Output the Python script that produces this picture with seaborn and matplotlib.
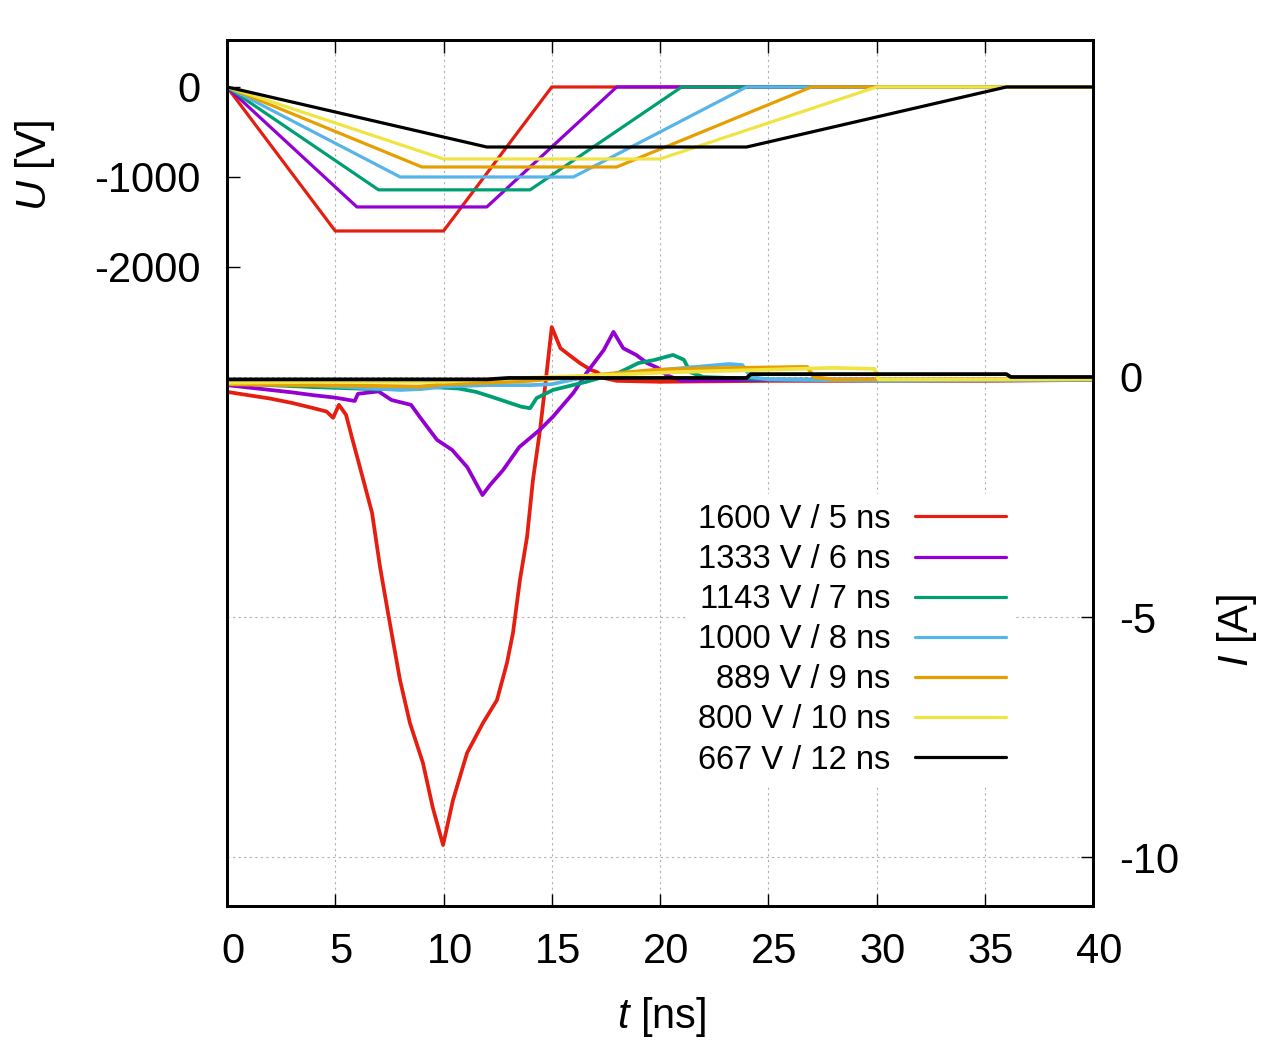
import matplotlib
matplotlib.use('Agg')
import matplotlib.pyplot as plt
import matplotlib.transforms as mtransforms
import seaborn as sns

# legend labels and gnuplot default line colours
labels = ['1600 V / 5 ns', '1333 V / 6 ns', '1143 V / 7 ns', '1000 V / 8 ns',
          '889 V / 9 ns', '800 V / 10 ns', '667 V / 12 ns']
colors = ['#e51e10', '#9400d3', '#009e73', '#56b4e9', '#e69f00', '#f0e442', '#000000']

# applied voltage pulses (corner points), t in ns, U in V
u_t = [
    [0, 5, 10, 15, 40],
    [0, 6, 12, 18, 40],
    [0, 7, 14, 21, 40],
    [0, 8, 16, 24, 40],
    [0, 9, 18, 27, 40],
    [0, 10, 20, 30, 40],
    [0, 12, 24, 36, 40],
]
u_v = [
    [0, -1600, -1600, 0, 0],
    [0, -1333, -1333, 0, 0],
    [0, -1143, -1143, 0, 0],
    [0, -1000, -1000, 0, 0],
    [0, -889, -889, 0, 0],
    [0, -800, -800, 0, 0],
    [0, -667, -667, 0, 0],
]

i_red_t = [0, 1, 2, 3, 4, 4.6, 4.9, 5.17, 5.5, 5.8, 6.14, 6.7, 7.07, 7.44, 7.99, 8.45,
           9.05, 9.5, 9.98, 10.44, 11.09, 11.82, 12.47, 12.93, 13.21, 13.53, 13.86,
           14.13, 14.46, 14.69, 15.0, 15.4, 15.8, 16.3, 16.8, 17.1, 17.4, 18, 20, 25,
           30, 35, 40]
i_red = [-0.31, -0.38, -0.45, -0.54, -0.65, -0.72, -0.85, -0.58, -0.79, -1.31, -1.88,
         -2.83, -3.96, -4.92, -6.31, -7.21, -8.04, -8.96, -9.75, -8.81, -7.83, -7.21,
         -6.73, -5.96, -5.33, -4.23, -3.33, -2.15, -1.1, -0.21, 1.04, 0.6, 0.46, 0.29,
         0.15, 0.1, -0.02, -0.08, -0.1, -0.08, -0.08, -0.08, -0.06]

i_pur_t = [0, 1, 2, 3, 4, 5, 5.9, 6.05, 7.0, 7.6, 8.5, 8.9, 9.7, 10.4, 11.1, 11.8,
           12.15, 12.75, 13.5, 14.45, 15.05, 16.0, 16.6, 17.4, 17.85, 18.3, 18.9,
           19.4, 19.9, 20.3, 21, 25, 30, 35, 40]
i_pur = [-0.17, -0.22, -0.27, -0.32, -0.38, -0.43, -0.5, -0.35, -0.3, -0.48, -0.58,
         -0.83, -1.31, -1.52, -1.88, -2.46, -2.25, -1.94, -1.46, -1.1, -0.83, -0.33,
         0.08, 0.56, 0.94, 0.6, 0.46, 0.29, 0.19, 0.04, -0.08, -0.06, -0.05, -0.05,
         -0.05]

i_grn_t = [0, 2, 4, 6, 7, 8, 9.1, 10.7, 11.5, 12.2, 13, 13.6, 14, 14.3, 15.06, 16.6,
           18.15, 19.0, 19.7, 20.6, 21.1, 21.4, 22, 25, 30, 35, 40]
i_grn = [-0.12, -0.17, -0.21, -0.24, -0.26, -0.22, -0.2, -0.24, -0.31, -0.41, -0.53,
         -0.62, -0.65, -0.44, -0.27, -0.1, 0.1, 0.29, 0.35, 0.46, 0.36, 0.1, 0.0,
         -0.05, -0.06, -0.06, -0.05]

i_blu_t = [0, 3, 6, 8, 9, 10, 12, 14, 15, 16, 17.5, 19, 21.4, 23.2, 23.8, 24.2, 25,
           30, 40]
i_blu = [-0.08, -0.15, -0.22, -0.27, -0.25, -0.2, -0.17, -0.17, -0.15, -0.05, 0.04,
         0.1, 0.2, 0.27, 0.25, 0.0, -0.05, -0.08, -0.06]

i_org_t = [0, 3, 6, 9, 10, 12, 14, 16, 18, 19.8, 22, 26.8, 27.1, 28, 35, 40]
i_org = [-0.15, -0.17, -0.18, -0.2, -0.15, -0.12, -0.08, 0.0, 0.08, 0.15, 0.18, 0.21,
         0.0, -0.05, -0.05, -0.05]

i_yel_t = [0, 5, 10, 12, 15, 18, 20.6, 24, 28, 29.9, 30.1, 35, 40]
i_yel = [-0.12, -0.1, -0.1, -0.05, 0.0, 0.05, 0.1, 0.14, 0.19, 0.17, -0.05, -0.05,
         -0.04]

i_blk_t = [0, 12, 13, 24, 24.2, 36, 36.2, 40]
i_blk = [-0.05, -0.05, -0.02, -0.02, 0.06, 0.06, 0.0, 0.0]

i_t = [i_red_t, i_pur_t, i_grn_t, i_blu_t, i_org_t, i_yel_t, i_blk_t]
i_v = [i_red, i_pur, i_grn, i_blu, i_org, i_yel, i_blk]

sns.set_theme(style='white')
plt.rcParams['font.family'] = ['Liberation Sans', 'DejaVu Sans']
plt.rcParams['mathtext.fontset'] = 'custom'
plt.rcParams['mathtext.rm'] = 'Liberation Sans'
plt.rcParams['mathtext.it'] = 'Liberation Sans:italic'
plt.rcParams['axes.unicode_minus'] = False
plt.rcParams['text.color'] = 'black'

W, H = 1267, 1050
fig = plt.figure(figsize=(W / 100, H / 100), dpi=100)
ax = fig.add_axes([227 / W, 1 - 906 / H, (1093 - 227) / W, (906 - 40) / H])
ax2 = ax.twinx()

# voltage
for t, u, c, lab in zip(u_t, u_v, colors, labels):
    sns.lineplot(x=t, y=u, ax=ax, color=c, lw=2.3, sort=False, estimator=None,
                 label=lab, legend=False)

# current
for t, i, c in zip(i_t, i_v, colors):
    sns.lineplot(x=t, y=i, ax=ax2, color=c, lw=2.7, sort=False, estimator=None,
                 legend=False)

ax.set_xlim(0, 40)
ax.set_ylim(-9100, 522)
ax2.set_ylim(-11.02, 7.02)
ax.set_xticks(range(0, 41, 5))
ax.set_yticks([0, -1000, -2000])
ax2.set_yticks([0, -5, -10])
ax.set_xlabel('')
ax.set_ylabel('')
ax2.set_ylabel('')

ax.tick_params(axis='x', direction='in', length=9, width=1, labelsize=30, pad=19,
               top=True, bottom=True, colors='black')
ax.tick_params(axis='y', direction='in', length=9, width=1, labelsize=30, pad=19,
               left=True, colors='black')
ax2.tick_params(axis='y', direction='in', length=9, width=1, labelsize=30, pad=19,
                right=True, colors='black')

# gnuplot puts the x tick labels a little to the right
shift = mtransforms.ScaledTranslation(6 / 100, 0, fig.dpi_scale_trans)
for lbl in ax.get_xticklabels():
    lbl.set_transform(lbl.get_transform() + shift)

grid_kw = dict(color='#b0b0b0', lw=0.8, ls=(0, (2, 3)))
ax.grid(axis='x', **grid_kw)
ax.grid(axis='y', visible=False)
ax2.grid(axis='y', **grid_kw)
ax2.grid(axis='x', visible=False)

for a in (ax, ax2):
    for s in a.spines.values():
        s.set_visible(True)
        s.set_color('black')
        s.set_linewidth(2.0)

handles, labs = ax.get_legend_handles_labels()
ax2.legend(handles, labs, loc='upper right', bbox_to_anchor=(1016 / W, 1 - 494 / H),
           bbox_transform=fig.transFigure, borderaxespad=0, markerfirst=False,
           fontsize=23.5, handlelength=2.8, handletextpad=0.75, labelspacing=0.28,
           borderpad=0.3, frameon=True, fancybox=False, facecolor='white',
           edgecolor='none', framealpha=1, labelcolor='black')

fig.text(35 / W, 1 - 165 / H, r'$U$ [V]', rotation=90, ha='center', va='center',
         fontsize=30)
fig.text(1237 / W, 1 - 630 / H, r'$I$ [A]', rotation=90, ha='center', va='center',
         fontsize=30)
fig.text(662 / W, 1 - 1017 / H, r'$t$ [ns]', ha='center', va='center', fontsize=30)

fig.savefig('out.png', dpi=100)
